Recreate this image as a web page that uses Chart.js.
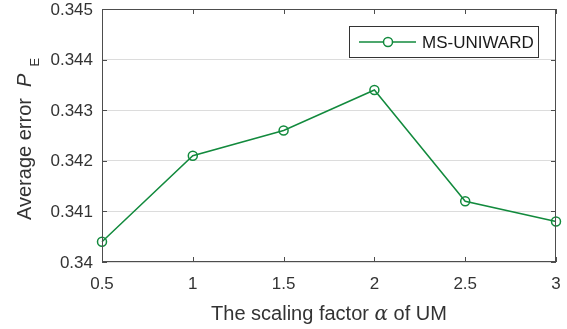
<!DOCTYPE html>
<html>
<head>
<meta charset="utf-8">
<script src="https://cdn.jsdelivr.net/npm/chart.js@4/dist/chart.umd.min.js"></script>
<style>
html,body{margin:0;padding:0;background:#fff;}
#wrap{width:567px;height:329px;position:relative;}
</style>
</head>
<body>
<div id="wrap"><canvas id="c" width="567" height="329"></canvas></div>
<script>
const xValues = [0.5, 1, 1.5, 2, 2.5, 3];
const seriesValues = [0.3404, 0.3421, 0.3426, 0.3434, 0.3412, 0.3408];
const seriesName = 'MS-UNIWARD';
const xTickValues = [0.5, 1, 1.5, 2, 2.5, 3];
const xTickLabels = ['0.5', '1', '1.5', '2', '2.5', '3'];
const yTickValues = [0.340, 0.341, 0.342, 0.343, 0.344, 0.345];
const yTickLabels = ['0.34', '0.341', '0.342', '0.343', '0.344', '0.345'];

const GREEN = '#128a3d';
const AXIS = '#4d4d4d';
const TEXT = '#333333';
const FONT = '"Liberation Sans", Arial, Helvetica, sans-serif';

const boxPlugin = {
  id: 'box',
  afterDatasetsDraw(chart) {
    const {ctx, chartArea: a, scales} = chart;
    ctx.save();
    ctx.strokeStyle = AXIS;
    ctx.lineWidth = 1;
    ctx.beginPath();
    ctx.moveTo(a.left, a.top + 0.5); ctx.lineTo(a.right, a.top + 0.5);
    ctx.moveTo(a.right - 0.5, a.top); ctx.lineTo(a.right - 0.5, a.bottom);
    ctx.moveTo(a.left + 0.5, a.top); ctx.lineTo(a.left + 0.5, a.bottom);
    ctx.moveTo(a.left, a.bottom - 0.5); ctx.lineTo(a.right, a.bottom - 0.5);
    const tl = 5;
    xTickValues.forEach(v => {
      const x = Math.round(scales.x.getPixelForValue(v)) + 0.5;
      ctx.moveTo(x, a.bottom); ctx.lineTo(x, a.bottom - tl);
      ctx.moveTo(x, a.top); ctx.lineTo(x, a.top + tl);
    });
    yTickValues.forEach(v => {
      const y = Math.round(scales.y.getPixelForValue(v)) + 0.5;
      ctx.moveTo(a.left, y); ctx.lineTo(a.left + tl, y);
      ctx.moveTo(a.right, y); ctx.lineTo(a.right - tl, y);
    });
    ctx.stroke();

    // tick labels
    ctx.fillStyle = TEXT;
    ctx.font = '17px ' + FONT;
    ctx.textAlign = 'center';
    ctx.textBaseline = 'alphabetic';
    xTickValues.forEach((v, i) => {
      ctx.fillText(xTickLabels[i], scales.x.getPixelForValue(v), a.bottom + 27);
    });
    ctx.textAlign = 'right';
    ctx.textBaseline = 'middle';
    yTickValues.forEach((v, i) => {
      ctx.fillText(yTickLabels[i], a.left - 9, scales.y.getPixelForValue(v) + 1);
    });

    // legend
    const lx = 349, ly = 26, lw = 189, lh = 31;
    ctx.fillStyle = '#fff';
    ctx.fillRect(lx, ly, lw, lh);
    ctx.strokeStyle = '#333';
    ctx.lineWidth = 1;
    ctx.strokeRect(lx + 0.5, ly + 0.5, lw, lh);
    const cy = ly + lh / 2 + 0.5;
    ctx.strokeStyle = GREEN;
    ctx.lineWidth = 1.5;
    ctx.beginPath(); ctx.moveTo(359, cy); ctx.lineTo(416, cy); ctx.stroke();
    ctx.beginPath(); ctx.arc(388, cy, 4.5, 0, Math.PI * 2);
    ctx.fillStyle = '#fff'; ctx.fill(); ctx.stroke();
    ctx.fillStyle = '#1a1a1a';
    ctx.font = '17px ' + FONT;
    ctx.textBaseline = 'middle';
    ctx.textAlign = 'left';
    ctx.fillText(seriesName, 422, cy + 1);

    // x title
    ctx.fillStyle = TEXT;
    ctx.textBaseline = 'alphabetic';
    const parts = [
      {t: 'The scaling factor ', f: '20px ' + FONT},
      {t: '\u03B1', f: 'italic 20px "DejaVu Serif", serif'},
      {t: ' of UM', f: '20px ' + FONT}
    ];
    let total = 0;
    parts.forEach(p => { ctx.font = p.f; p.w = ctx.measureText(p.t).width; total += p.w; });
    let x0 = (a.left + a.right) / 2 - total / 2;
    parts.forEach(p => { ctx.font = p.f; ctx.fillText(p.t, x0, 320); x0 += p.w; });

    // y title (rotated)
    ctx.save();
    ctx.translate(31, 0);
    ctx.rotate(-Math.PI / 2);
    const yp = [
      {t: 'Average error  ', f: '20px ' + FONT, dy: 0},
      {t: 'P', f: 'italic 20px ' + FONT, dy: 0},
      {t: '  E', f: '13px ' + FONT, dy: 8}
    ];
    // text runs upward: starts at y=220 (screen) -> -220 in rotated frame
    x0 = -220;
    yp.forEach(p => { ctx.font = p.f; ctx.textAlign = 'left'; ctx.fillText(p.t, x0, p.dy); x0 += ctx.measureText(p.t).width; });
    ctx.restore();
    ctx.restore();
  }
};

new Chart(document.getElementById('c'), {
  type: 'line',
  data: {
    datasets: [{
      label: seriesName,
      data: xValues.map((x, i) => ({x: x, y: seriesValues[i]})),
      borderColor: GREEN,
      backgroundColor: '#ffffff',
      borderWidth: 1.5,
      pointRadius: 4.5,
      pointBorderWidth: 1.5,
      pointBackgroundColor: 'rgba(255,255,255,0)',
      pointBorderColor: GREEN,
      tension: 0,
      clip: false
    }]
  },
  options: {
    responsive: false,
    animation: false,
    events: [],
    layout: {padding: {left: 0, right: 11, top: 9, bottom: 0}},
    plugins: {legend: {display: false}, tooltip: {enabled: false}},
    scales: {
      x: {
        type: 'linear', min: 0.5, max: 3,
        afterFit(s) { s.height = 67; },
        afterBuildTicks(s) { s.ticks = xTickValues.map(v => ({value: v})); },
        grid: {display: false, drawTicks: false},
        border: {display: false},
        ticks: {display: false}
      },
      y: {
        type: 'linear', min: 0.340, max: 0.345,
        afterFit(s) { s.width = 102; },
        afterBuildTicks(s) { s.ticks = yTickValues.map(v => ({value: v})); },
        grid: {color: '#dcdcdc', drawTicks: false, lineWidth: 1},
        border: {display: false},
        ticks: {display: false}
      }
    }
  },
  plugins: [boxPlugin]
});
</script>
</body>
</html>
